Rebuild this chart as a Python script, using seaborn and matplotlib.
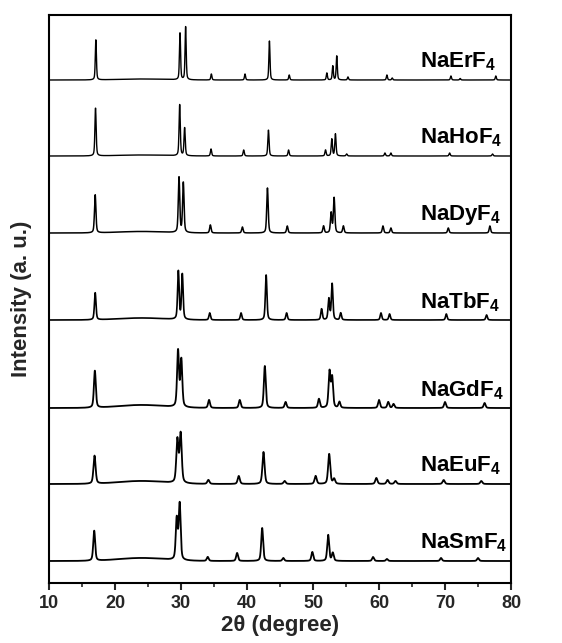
import numpy as np
import pandas as pd
import matplotlib
matplotlib.use("Agg")
import matplotlib.pyplot as plt
import seaborn as sns

# ---------------- data ----------------
samples = ["NaErF4", "NaHoF4", "NaDyF4", "NaTbF4", "NaGdF4", "NaEuF4", "NaSmF4"]
labels = [r"NaErF$_\mathbf{4}$", r"NaHoF$_\mathbf{4}$", r"NaDyF$_\mathbf{4}$",
          r"NaTbF$_\mathbf{4}$", r"NaGdF$_\mathbf{4}$", r"NaEuF$_\mathbf{4}$",
          r"NaSmF$_\mathbf{4}$"]
offsets = [503, 427, 350, 263, 175, 99, 22]          # baseline of each pattern (a.u.)

er_pos = [17.1, 29.85, 30.7, 34.6, 39.7, 43.4, 46.4, 52.1, 53.0, 53.6, 55.3, 61.2, 62.0, 70.9, 72.3, 77.7]
er_int = [40, 47, 53, 6, 6, 39, 5, 7, 14, 24, 3, 5, 2, 4, 1.5, 4]

ho_pos = [17.05, 29.8, 30.55, 34.55, 39.5, 43.25, 46.3, 51.9, 52.85, 53.4, 55.1, 60.9, 61.8, 70.7, 77.2]
ho_int = [48, 51, 28, 7, 6, 26, 6, 6, 17, 22, 2, 3, 3, 3, 2]

dy_pos = [17.0, 29.7, 30.35, 34.45, 39.3, 43.1, 46.1, 51.6, 52.75, 53.2, 54.6, 60.6, 61.8, 70.5, 76.8]
dy_int = [38, 55, 50, 8, 6, 45, 7, 7, 20, 35, 7, 7, 5, 5, 7]

tb_pos = [17.0, 29.6, 30.2, 34.35, 39.1, 42.9, 46.0, 51.3, 52.4, 52.9, 54.2, 60.3, 61.6, 70.2, 76.3]
tb_int = [27, 48, 45, 7, 7, 45, 7, 11, 21, 36, 7, 7, 6, 6, 5]

gd_pos = [16.95, 29.55, 30.05, 34.25, 38.9, 42.7, 45.85, 50.9, 52.5, 52.9, 54.0, 60.0, 61.4, 62.2, 70.0, 76.0]
gd_int = [37, 56, 47, 8, 8, 42, 6, 9, 36, 30, 6, 8, 6, 4, 6, 5]

eu_pos = [16.9, 29.45, 29.95, 34.15, 38.75, 42.5, 45.7, 50.4, 52.45, 53.2, 59.6, 61.3, 62.5, 69.8, 75.5]
eu_int = [28, 43, 49, 4, 8, 32, 3, 8, 30, 5, 6, 4, 3, 4, 3]

sm_pos = [16.85, 29.35, 29.8, 34.05, 38.5, 42.3, 45.5, 49.9, 52.3, 53.0, 59.1, 61.2, 69.4, 75.0]
sm_int = [30, 41, 56, 4, 8, 33, 3, 9, 26, 8, 4, 2, 3, 3]

peak_pos = [er_pos, ho_pos, dy_pos, tb_pos, gd_pos, eu_pos, sm_pos]
peak_int = [er_int, ho_int, dy_int, tb_int, gd_int, eu_int, sm_int]
fwhm = [0.20, 0.22, 0.26, 0.28, 0.34, 0.38, 0.34]     # peak width (deg)
hump = [1, 1, 1.5, 2, 3, 3, 3]                        # broad background near 24 deg
line_w = [1.0, 1.0, 1.1, 1.2, 1.3, 1.3, 1.3]          # noisier patterns look thicker

x_ticks = [10, 20, 30, 40, 50, 60, 70, 80]

# ---------------- build patterns ----------------
tt = np.arange(10, 80.001, 0.02)
rows = []
for name, off, pos, inten, w, hb in zip(samples, offsets, peak_pos, peak_int, fwhm, hump):
    y = np.full_like(tt, float(off))
    y += hb * np.exp(-((tt - 24.0) / 5.0) ** 2)
    for p, h in zip(pos, inten):
        u = (tt - p) / w
        y += h * (0.55 * np.exp(-4 * np.log(2) * u ** 2) + 0.45 / (1 + 4 * u ** 2))
    rows.append(pd.DataFrame({"two_theta": tt, "intensity": y, "sample": name}))
df = pd.concat(rows, ignore_index=True)

# ---------------- plot ----------------
sns.set_theme(style="ticks")
plt.rcParams["font.family"] = ["Liberation Sans", "DejaVu Sans"]
plt.rcParams["mathtext.fontset"] = "custom"
plt.rcParams["mathtext.rm"] = "Liberation Sans"
plt.rcParams["mathtext.bf"] = "Liberation Sans:bold"

fig = plt.figure(figsize=(5.62, 6.43), dpi=100)
ax = fig.add_axes([49 / 562, 1 - 583 / 643, (511 - 49) / 562, (583 - 15) / 643])

for name, lw in zip(samples, line_w):
    sns.lineplot(data=df[df["sample"] == name], x="two_theta", y="intensity",
                 estimator=None, color="black", linewidth=lw, sort=False, ax=ax,
                 legend=False)

for lab, off in zip(labels, offsets):
    ax.text(66.2, off + 18, lab, fontsize=16, fontweight="bold", ha="left",
            va="center", color="black")

ax.set_xlim(10, 80)
ax.set_ylim(0, 568)
ax.set_xticks(x_ticks)
ax.set_xticks(np.arange(15, 80, 10), minor=True)
ax.set_xticklabels([str(t) for t in x_ticks], fontsize=13, fontweight="bold")
ax.set_yticks([])
ax.tick_params(axis="x", which="major", direction="out", length=5, width=1.5, pad=4)
ax.tick_params(axis="x", which="minor", direction="out", length=3, width=1.2)
for s in ax.spines.values():
    s.set_linewidth(1.5)
    s.set_color("black")
ax.set_xlabel("2θ (degree)", fontsize=16, fontweight="bold", labelpad=2)
ax.set_ylabel("Intensity (a. u.)", fontsize=16, fontweight="bold", labelpad=12)

fig.savefig("out.png", dpi=100)
